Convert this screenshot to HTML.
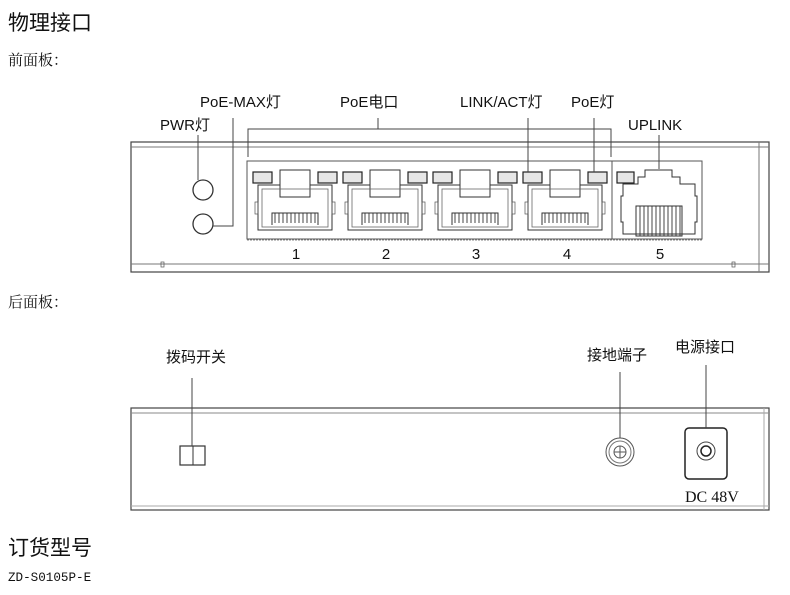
<!DOCTYPE html>
<html><head><meta charset="utf-8"><style>
body{margin:0;background:#fff;width:790px;height:595px;overflow:hidden}
svg{display:block}
text{font-family:"Liberation Sans","Noto Sans CJK SC",sans-serif;fill:#111}
.s{font-family:"Liberation Serif","Noto Serif CJK SC",serif}
.m{font-family:"Liberation Mono",monospace}
</style></head><body>
<svg width="790" height="595" viewBox="0 0 790 595" xmlns="http://www.w3.org/2000/svg">
<defs>
<g id="port">
 <rect x="0" y="17" width="19" height="11" fill="#e6e6e6" stroke="#222" stroke-width="1.2"/>
 <rect x="65" y="17" width="19" height="11" fill="#e6e6e6" stroke="#222" stroke-width="1.2"/>
 <path d="M5 30 H27 V42 H57 V30 H79 V75 H5 Z" fill="none" stroke="#333" stroke-width="1"/>
 <path d="M27 15 H57 V42 H27 Z" fill="none" stroke="#333" stroke-width="1"/>
 <rect x="9" y="34" width="66" height="38" fill="none" stroke="#666" stroke-width="0.8"/>
 <path d="M19 70 V58 H65 V70" fill="none" stroke="#333"/>
 <path d="M22 58v10M26 58v10M30 58v10M34 58v10M38 58v10M42 58v10M46 58v10M50 58v10M54 58v10M58 58v10M62 58v10" stroke="#333" stroke-width="0.9"/>
 <rect x="2" y="47" width="3" height="12" fill="none" stroke="#555" stroke-width="0.7"/>
 <rect x="79" y="47" width="3" height="12" fill="none" stroke="#555" stroke-width="0.7"/>
</g>
</defs>
<text x="8" y="30" font-size="21">物理接口</text>
<text x="8" y="65" font-size="15" class="s">前面板：</text>

<rect x="131" y="142" width="638" height="130" fill="none" stroke="#444" stroke-width="1.2"/>
<line x1="131" y1="147" x2="769" y2="147" stroke="#777"/>
<line x1="131" y1="264" x2="769" y2="264" stroke="#777"/>
<line x1="759" y1="142" x2="759" y2="272" stroke="#777"/>
<rect x="161" y="262" width="3" height="5" fill="none" stroke="#555" stroke-width="0.7"/>
<rect x="732" y="262" width="3" height="5" fill="none" stroke="#555" stroke-width="0.7"/>
<rect x="247" y="161" width="365" height="78" fill="none" stroke="#555" stroke-width="1"/>
<rect x="612" y="161" width="90" height="78" fill="none" stroke="#555" stroke-width="1"/>
<line x1="247" y1="240" x2="702" y2="240" stroke="#888" stroke-dasharray="2,1"/>
<use href="#port" x="253" y="155"/>
<use href="#port" x="343" y="155"/>
<use href="#port" x="433" y="155"/>
<use href="#port" x="523" y="155"/>
<rect x="617" y="172" width="17" height="11" fill="#e6e6e6" stroke="#222" stroke-width="1.2"/>
<path d="M645 170 H672 V177 H680 V184 H695 V196 H697 V222 H695 V234 H623 V222 H621 V196 H623 V184 H638 V177 H645 Z" fill="none" stroke="#333"/>
<path d="M636 206 H682 V236 H636 Z" fill="none" stroke="#333"/>
<path d="M640 206v30M644 206v30M648 206v30M652 206v30M656 206v30M660 206v30M664 206v30M668 206v30M672 206v30M676 206v30M680 206v30" stroke="#333" stroke-width="0.9"/>
<circle cx="203" cy="190" r="10" fill="none" stroke="#333" stroke-width="1.3"/>
<circle cx="203" cy="224" r="10" fill="none" stroke="#333" stroke-width="1.3"/>
<g stroke="#444" stroke-width="1" fill="none">
 <path d="M198 135 V180"/>
 <path d="M233 118 V226 H213"/>
 <path d="M248 157 V129 H611 V157"/>
 <path d="M378 118 V129"/>
 <path d="M528 118 V172"/>
 <path d="M594 118 V172"/>
 <path d="M659 135 V169"/>
</g>
<g font-size="15">
<text x="160" y="130">PWR灯</text>
<text x="200" y="107">PoE-MAX灯</text>
<text x="340" y="107">PoE电口</text>
<text x="460" y="107">LINK/ACT灯</text>
<text x="571" y="107">PoE灯</text>
<text x="628" y="130">UPLINK</text>
</g>
<g font-size="15" text-anchor="middle">
<text x="296" y="259">1</text><text x="386" y="259">2</text><text x="476" y="259">3</text><text x="567" y="259">4</text><text x="660" y="259">5</text>
</g>

<text x="8" y="307" font-size="15" class="s">后面板：</text>

<rect x="131" y="408" width="638" height="102" fill="none" stroke="#444" stroke-width="1.2"/>
<line x1="131" y1="413" x2="769" y2="413" stroke="#888"/>
<line x1="131" y1="506" x2="769" y2="506" stroke="#aaa"/>
<line x1="764" y1="408" x2="764" y2="510" stroke="#aaa"/>
<rect x="180" y="446" width="25" height="19" fill="none" stroke="#333" stroke-width="1.2"/>
<line x1="193" y1="446" x2="193" y2="465" stroke="#333"/>
<circle cx="620" cy="452" r="14" fill="none" stroke="#555"/>
<circle cx="620" cy="452" r="11" fill="none" stroke="#777"/>
<circle cx="620" cy="452" r="6" fill="none" stroke="#555"/>
<path d="M614 452h12M620 446v12" stroke="#555"/>
<rect x="685" y="428" width="42" height="51" rx="4" fill="none" stroke="#222" stroke-width="1.5"/>
<circle cx="706" cy="451" r="9" fill="none" stroke="#444"/>
<circle cx="706" cy="451" r="5" fill="none" stroke="#222" stroke-width="1.5"/>
<g stroke="#444" fill="none">
 <path d="M192 378 V446"/>
 <path d="M620 372 V438"/>
 <path d="M706 365 V428"/>
</g>
<text x="166" y="362" font-size="15">拨码开关</text>
<text x="587" y="360" font-size="15">接地端子</text>
<text x="675" y="352" font-size="15">电源接口</text>
<text x="685" y="502" font-size="16" class="s">DC 48V</text>

<text x="8" y="555" font-size="21">订货型号</text>
<text x="8" y="581" font-size="12.6" class="m">ZD-S0105P-E</text>
</svg>
</body></html>
